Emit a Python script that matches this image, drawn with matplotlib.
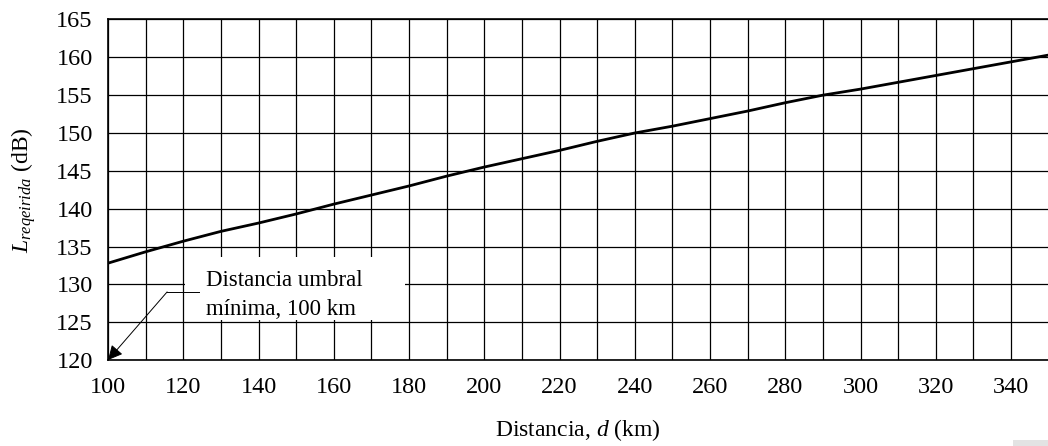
import numpy as np
import matplotlib
matplotlib.use("Agg")
import matplotlib.pyplot as plt
from matplotlib.patches import Rectangle

# Distance (km) vs required loss (dB)
distance_km = [100, 110, 120, 130, 140, 150, 160, 170, 180, 190, 200, 210, 220,
               230, 240, 250, 260, 270, 280, 290, 300, 310, 320, 330, 340, 350]
loss_db = [132.8, 134.3, 135.7, 137.0, 138.1, 139.3, 140.6, 141.8, 143.0, 144.3,
           145.5, 146.6, 147.7, 148.9, 150.0, 150.9, 151.9, 152.9, 154.0, 155.0,
           155.8, 156.7, 157.6, 158.5, 159.4, 160.3]

x_ticks = list(range(100, 341, 20))
x_grid = list(range(100, 351, 10))
y_ticks = list(range(120, 166, 5))

note_text = "Distancia umbral\nmínima, 100 km"
note_target = (100, 120)

plt.rcParams["font.family"] = ["Liberation Serif", "DejaVu Serif"]
plt.rcParams["mathtext.fontset"] = "custom"
plt.rcParams["mathtext.rm"] = "Liberation Serif"
plt.rcParams["mathtext.it"] = "Liberation Serif:italic"

fig = plt.figure(figsize=(10.48, 4.46), dpi=100)
ax = fig.add_axes([0.1031, 0.1928, 0.8975, 0.7635])

ax.set_xlim(100, 350)
ax.set_ylim(120, 165)
ax.set_xticks(x_grid, minor=True)
ax.set_xticks(x_ticks)
ax.set_yticks(y_ticks)
ax.grid(True, which="both", color="black", lw=0.9, zorder=0)
ax.tick_params(which="both", length=0, labelsize=17.5)
ax.tick_params(axis="y", pad=11)
ax.tick_params(axis="x", pad=12)
for side in ["left", "bottom", "top"]:
    ax.spines[side].set_linewidth(1.2)
ax.spines["right"].set_visible(False)

ax.plot(distance_km, loss_db, color="black", lw=2.0, zorder=3)

# annotation box (white background hides grid)
ax.add_patch(Rectangle((120.5, 125.3), 58.4, 8.3, facecolor="white",
                       edgecolor="none", zorder=2))
ax.text(126.0, 128.6, note_text, fontsize=16.5, va="center", ha="left",
        linespacing=1.45, zorder=4)
ax.plot([115.7, 124.2], [129.0, 129.0], color="black", lw=0.7, zorder=4)
ax.annotate("", xy=note_target, xytext=(115.7, 129.0),
            arrowprops=dict(arrowstyle="-|>", color="black", lw=0.7,
                            mutation_scale=22, shrinkA=0, shrinkB=0),
            zorder=4)

ax.set_xlabel("Distancia, $d$ (km)", fontsize=17, labelpad=14)
ax.set_ylabel("$L_{reqeirida}$ (dB)", fontsize=17, labelpad=13)

fig.patches.append(Rectangle((1013 / 1048, 0), 35 / 1048, 6 / 446,
                             transform=fig.transFigure, facecolor="#e3e3e3",
                             edgecolor="none"))

fig.savefig("out.png", dpi=100)
